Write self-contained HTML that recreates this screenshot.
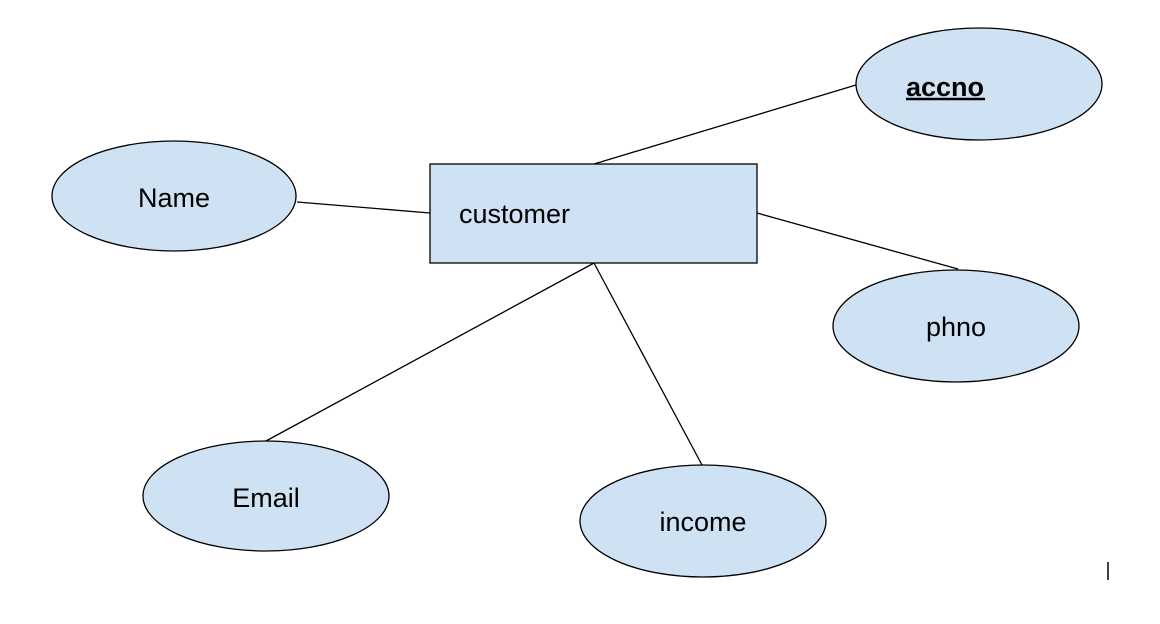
<!DOCTYPE html>
<html><head><style>body{margin:0;background:#fff}</style></head><body>
<svg width="1160" height="619" xmlns="http://www.w3.org/2000/svg" font-family="Liberation Sans, Arial, sans-serif" font-size="27">
<g stroke="#000" stroke-width="1.3">
<line x1="594" y1="164" x2="856" y2="85"/>
<line x1="297" y1="202" x2="430" y2="213"/>
<line x1="757" y1="213" x2="958" y2="269"/>
<line x1="594" y1="263" x2="266" y2="441"/>
<line x1="594" y1="263" x2="702" y2="465"/>
</g>
<g fill="#cfe2f3" stroke="#000" stroke-width="1.3">
<rect x="430" y="164" width="327" height="99"/>
<ellipse cx="979" cy="84" rx="123" ry="56"/>
<ellipse cx="174" cy="196" rx="122" ry="55"/>
<ellipse cx="956" cy="326" rx="123" ry="56"/>
<ellipse cx="266" cy="496" rx="123" ry="55"/>
<ellipse cx="703" cy="521" rx="123" ry="56"/>
</g>
<line x1="1108" y1="562" x2="1108" y2="580" stroke="#000" stroke-width="1.5"/>
<g fill="#000">
<text x="459" y="223">customer</text>
<text x="906" y="96" font-weight="bold">accno</text>
<line x1="906" y1="99" x2="985" y2="99" stroke="#000" stroke-width="2.5"/>
<text x="174" y="207" text-anchor="middle">Name</text>
<text x="956" y="336" text-anchor="middle">phno</text>
<text x="266" y="507" text-anchor="middle">Email</text>
<text x="703" y="531" text-anchor="middle">income</text>
</g>
</svg>
</body></html>
